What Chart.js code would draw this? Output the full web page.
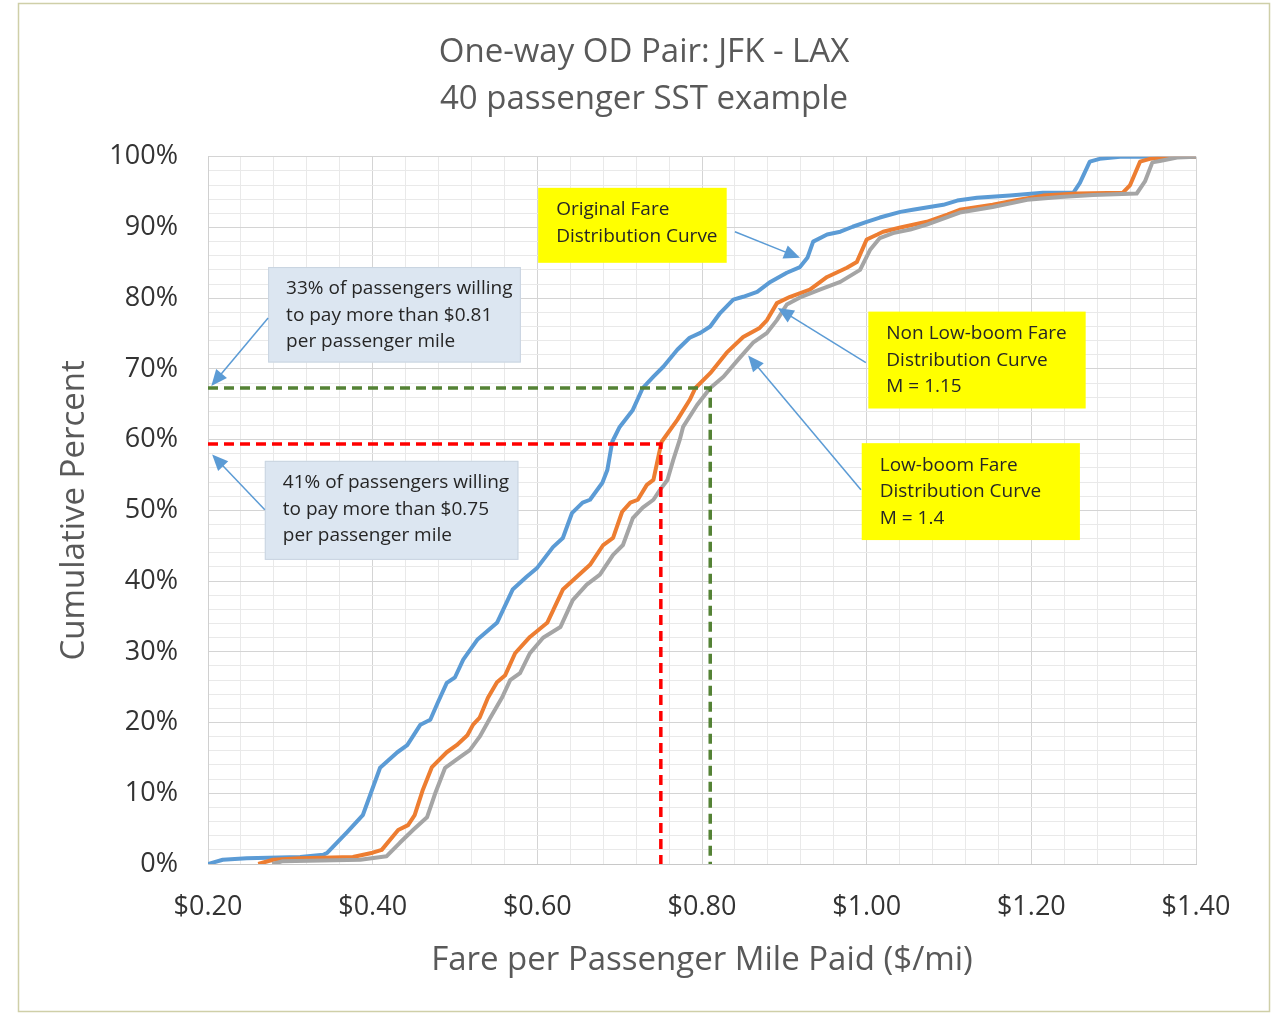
<!DOCTYPE html>
<html>
<head>
<meta charset="utf-8">
<script src="https://cdn.jsdelivr.net/npm/chart.js@4.4.1/dist/chart.umd.min.js"></script>
<style>
  html, body { margin:0; padding:0; background:#fff; }
  #wrap { width:1273px; height:1015px; }
</style>
</head>
<body>
<div id="wrap"><canvas id="fareChart" width="1273" height="1015"></canvas></div>
<script>
// ===== Data =====
// Original fare distribution (blue)
const origFare = [0.200,0.218,0.247,0.312,0.340,0.345,0.369,0.388,0.409,0.430,0.442,0.458,0.470,0.479,0.490,0.500,0.510,0.527,0.551,0.570,0.587,0.600,0.619,0.631,0.642,0.655,0.664,0.679,0.685,0.691,0.700,0.716,0.728,0.741,0.753,0.770,0.785,0.798,0.810,0.822,0.838,0.850,0.867,0.883,0.903,0.919,0.928,0.935,0.952,0.968,0.983,1.000,1.016,1.041,1.056,1.093,1.110,1.134,1.174,1.214,1.251,1.259,1.271,1.283,1.308,1.400];
const origPct  = [0,0.6,0.8,1.0,1.3,1.6,4.5,6.9,13.6,15.8,16.8,19.7,20.4,22.8,25.6,26.4,28.9,31.7,34.1,38.8,40.6,41.9,44.8,46.1,49.6,51.1,51.5,53.9,55.7,59.7,61.8,64.2,67.3,68.9,70.3,72.7,74.4,75.1,76.0,77.9,79.8,80.2,80.9,82.3,83.6,84.4,85.7,88.0,89.0,89.4,90.1,90.8,91.4,92.2,92.5,93.2,93.8,94.2,94.5,94.9,94.9,96.3,99.3,99.7,100,100];

// Non low-boom, M = 1.15 (orange)
const nonLbFare = [0.261,0.279,0.312,0.376,0.400,0.411,0.431,0.443,0.451,0.461,0.472,0.490,0.502,0.515,0.522,0.530,0.540,0.551,0.561,0.573,0.591,0.612,0.631,0.648,0.664,0.680,0.692,0.703,0.713,0.722,0.733,0.741,0.747,0.751,0.770,0.785,0.792,0.810,0.830,0.850,0.870,0.879,0.891,0.907,0.931,0.952,0.976,0.988,1.000,1.013,1.020,1.041,1.073,1.098,1.113,1.153,1.183,1.214,1.256,1.311,1.320,1.332,1.344,1.368,1.400];
const nonLbPct  = [0,0.6,0.8,1.0,1.6,2.0,4.8,5.5,6.9,10.5,13.7,15.8,16.8,18.2,19.7,20.7,23.5,25.7,26.7,29.8,32.1,34.1,38.8,40.6,42.3,45.1,46.1,49.8,51.1,51.5,53.6,54.3,57.6,59.7,62.8,65.6,67.3,69.4,72.3,74.5,75.8,76.9,79.3,80.2,81.2,83.0,84.3,85.1,88.3,89.0,89.4,90.0,90.8,91.8,92.5,93.2,93.9,94.5,94.8,94.9,96.0,99.3,99.7,100,100];

// Low-boom, M = 1.4 (gray)
const lowBFare = [0.278,0.291,0.385,0.417,0.433,0.449,0.466,0.476,0.488,0.506,0.518,0.530,0.542,0.557,0.567,0.579,0.591,0.607,0.628,0.643,0.660,0.676,0.692,0.704,0.716,0.728,0.741,0.749,0.758,0.765,0.773,0.777,0.794,0.810,0.826,0.846,0.862,0.879,0.891,0.903,0.919,0.943,0.968,0.992,1.004,1.016,1.032,1.053,1.073,1.113,1.153,1.195,1.235,1.275,1.328,1.338,1.347,1.356,1.377,1.400];
const lowBPct  = [0,0.4,0.6,1.1,3.0,4.8,6.6,10.0,13.6,15.1,16.1,18.0,20.5,23.5,26.0,27.0,29.8,32.0,33.5,37.3,39.5,40.9,43.7,45.1,48.9,50.4,51.5,52.9,54.3,57.1,60.0,61.8,64.9,67.3,68.9,71.6,73.7,75.1,76.9,79.1,80.1,81.2,82.3,84.0,86.8,88.5,89.2,89.7,90.4,92.1,92.9,93.9,94.3,94.6,94.8,96.5,99.2,99.4,99.9,100];

// dashed guide lines (fare, percent)
const redGuide = [0.75, 59.4];
const greenGuide = [0.81, 67.3];

const xTickLabels = ['$0.20','$0.40','$0.60','$0.80','$1.00','$1.20','$1.40'];
const yTickLabels = ['0%','10%','20%','30%','40%','50%','60%','70%','80%','90%','100%'];

// ===== Callouts (anchored in data units) =====
const NOTES = [
  { lines:['Original Fare','Distribution Curve'], box:[0.601,95.6,0.830,85.0], fill:'#ffff00', arrow:[0.840,89.4,0.919,85.7] },
  { lines:['Non Low-boom Fare','Distribution Curve','M = 1.15'], box:[1.002,78.1,1.266,64.4], fill:'#ffff00', arrow:[0.999,70.9,0.892,78.6] },
  { lines:['Low-boom Fare','Distribution Curve','M = 1.4'], box:[0.994,59.5,1.259,45.8], fill:'#ffff00', arrow:[0.993,52.9,0.856,71.9] },
  { lines:['33% of passengers willing','to pay more than $0.81','per passenger mile'], box:[0.273,84.4,0.580,70.9], fill:'#dce6f1', stroke:'#c9d4e0', arrow:[0.273,77.2,0.204,67.6] },
  { lines:['41% of passengers willing','to pay more than $0.75','per passenger mile'], box:[0.269,57.0,0.577,43.0], fill:'#dce6f1', stroke:'#c9d4e0', arrow:[0.269,50.1,0.205,57.9] }
];

const pts = (xs, ys) => xs.map((v, i) => ({ x: v, y: ys[i] }));
const isMajor = (v, step) => Math.abs(v / step - Math.round(v / step)) < 1e-6;

function drawArrow(ctx, x1, y1, x2, y2) {
  const ang = Math.atan2(y2 - y1, x2 - x1), L = 16, W = 7;
  ctx.strokeStyle = '#5b9bd5'; ctx.fillStyle = '#5b9bd5'; ctx.lineWidth = 1.5;
  ctx.beginPath();
  ctx.moveTo(x1, y1);
  ctx.lineTo(x2 - Math.cos(ang) * L * 0.8, y2 - Math.sin(ang) * L * 0.8);
  ctx.stroke();
  ctx.beginPath();
  ctx.moveTo(x2, y2);
  ctx.lineTo(x2 - Math.cos(ang) * L - Math.sin(ang) * W, y2 - Math.sin(ang) * L + Math.cos(ang) * W);
  ctx.lineTo(x2 - Math.cos(ang) * L + Math.sin(ang) * W, y2 - Math.sin(ang) * L - Math.cos(ang) * W);
  ctx.closePath();
  ctx.fill();
}

const frame = {
  id: 'frame',
  beforeDraw(chart) {
    const { ctx, width, height } = chart;
    ctx.save();
    ctx.fillStyle = '#fff';
    ctx.fillRect(0, 0, width, height);
    ctx.strokeStyle = '#cfcfa8';
    ctx.lineWidth = 1.5;
    ctx.strokeRect(18.5, 3.5, 1251, 1008);
    ctx.restore();
  }
};

const notes = {
  id: 'notes',
  afterDatasetsDraw(chart) {
    const { ctx, scales: { x, y } } = chart;
    ctx.save();
    NOTES.forEach(n => {
      const l = x.getPixelForValue(n.box[0]), t = y.getPixelForValue(n.box[1]);
      const r = x.getPixelForValue(n.box[2]), b = y.getPixelForValue(n.box[3]);
      ctx.fillStyle = n.fill;
      ctx.fillRect(l, t, r - l, b - t);
      if (n.stroke) {
        ctx.strokeStyle = n.stroke; ctx.lineWidth = 1;
        ctx.strokeRect(l + 0.5, t + 0.5, r - l - 1, b - t - 1);
      }
      ctx.fillStyle = '#262626';
      ctx.font = '19px "Open Sans"';
      ctx.textBaseline = 'middle';
      ctx.textAlign = 'left';
      n.lines.forEach((s, i) => ctx.fillText(s, l + 18, t + 22 + i * 26.5));
      drawArrow(ctx, x.getPixelForValue(n.arrow[0]), y.getPixelForValue(n.arrow[1]),
                     x.getPixelForValue(n.arrow[2]), y.getPixelForValue(n.arrow[3]));
    });
    ctx.restore();
  }
};

const curve = (label, data, color, order) => ({
  label, data, borderColor: color, backgroundColor: color,
  borderWidth: 4, pointRadius: 0, tension: 0, order, borderJoinStyle: 'round'
});
const guide = (g, color) => ({
  label: 'guide', data: [{ x: 0.2, y: g[1] }, { x: g[0], y: g[1] }, { x: g[0], y: 0 }],
  borderColor: color, borderWidth: 3.5, borderDash: [10, 6], pointRadius: 0, tension: 0, order: 0
});

const ctx = document.getElementById('fareChart').getContext('2d');
new Chart(ctx, {
  type: 'line',
  data: {
    datasets: [
      curve('Original Fare Distribution Curve', pts(origFare, origPct), '#5b9bd5', 3),
      curve('Non Low-boom Fare Distribution Curve', pts(nonLbFare, nonLbPct), '#ed7d31', 2),
      curve('Low-boom Fare Distribution Curve', pts(lowBFare, lowBPct), '#a5a5a5', 1),
      guide(redGuide, '#ff0000'),
      guide(greenGuide, '#548235')
    ]
  },
  options: {
    responsive: false, animation: false,
    // left padding 92 keeps the chart title centred on the frame like the original
    layout: { padding: { left: 92, right: 77, top: 0, bottom: 0 } },
    plugins: {
      legend: { display: false },
      tooltip: { enabled: false },
      title: {
        display: true,
        text: ['One-way OD Pair: JFK - LAX', '40 passenger SST example'],
        color: '#595959',
        font: { family: '"Open Sans"', size: 33, weight: 'normal', lineHeight: 1.42 },
        padding: { top: 29, bottom: 34 }
      }
    },
    scales: {
      x: {
        type: 'linear', min: 0.2, max: 1.4,
        afterFit: s => { s.height = 151; },
        border: { color: '#c8c8c8', width: 1 },
        grid: { drawTicks: false, color: c => isMajor(c.tick.value, 0.2) ? '#d4d4d4' : '#e9e9e9', lineWidth: 1 },
        ticks: {
          stepSize: 0.04, autoSkip: false, maxRotation: 0, maxTicksLimit: 100, padding: 27,
          color: '#333', font: { family: '"Open Sans"', size: 27 },
          callback: v => isMajor(v, 0.2) ? xTickLabels[Math.round((v - 0.2) / 0.2)] : ''
        },
        title: {
          display: true, text: 'Fare per Passenger Mile Paid ($/mi)', color: '#595959',
          font: { family: '"Open Sans"', size: 33 }, padding: { top: 0, bottom: 35 }
        }
      },
      y: {
        type: 'linear', min: 0, max: 100,
        afterFit: s => { s.width = 116; },
        border: { color: '#d0d0d0', width: 1 },
        grid: { drawTicks: false, color: c => isMajor(c.tick.value, 10) ? '#d4d4d4' : '#e9e9e9', lineWidth: 1 },
        ticks: {
          stepSize: 2, autoSkip: false, maxTicksLimit: 100, padding: 30,
          color: '#333', font: { family: '"Open Sans"', size: 27 },
          callback: v => isMajor(v, 10) ? yTickLabels[Math.round(v / 10)] : ''
        },
        title: {
          display: true, text: 'Cumulative Percent', color: '#595959',
          font: { family: '"Open Sans"', size: 33 }, padding: { top: -37, bottom: 0 }
        }
      }
    }
  },
  plugins: [frame, notes]
});
</script>
</body>
</html>
